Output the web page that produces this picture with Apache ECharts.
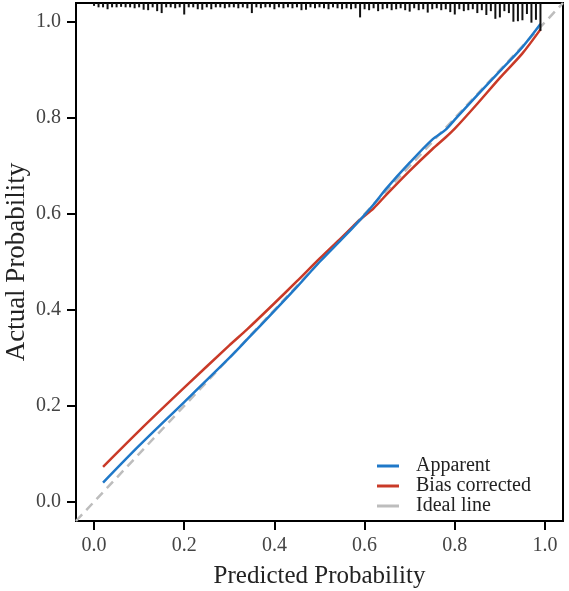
<!DOCTYPE html>
<html lang="en">
<head>
    <meta charset="UTF-8">
    <title>Calibration curve</title>
    <script src="https://cdn.jsdelivr.net/npm/echarts@6/dist/echarts.min.js"></script>
    <style>
        html, body { margin: 0; padding: 0; background: #fff; }
        #chart { width: 569px; height: 591px; }
    </style>
</head>
<body>
<div id="chart"></div>
<script>
    // predicted probability grid of the two curves
    let predX = [0.02, 0.1, 0.2, 0.3, 0.34, 0.4, 0.45, 0.5, 0.55, 0.59, 0.62, 0.65, 0.7, 0.75, 0.78, 0.8, 0.85, 0.9, 0.95, 0.99];
    let apparent = [0.040, 0.117, 0.208, 0.300, 0.339, 0.398, 0.448, 0.500, 0.548, 0.588, 0.620, 0.655, 0.707, 0.755, 0.776, 0.797, 0.848, 0.898, 0.948, 0.996];
    let biasCorrected = [0.073, 0.148, 0.238, 0.326, 0.360, 0.414, 0.460, 0.507, 0.552, 0.588, 0.612, 0.642, 0.690, 0.735, 0.760, 0.778, 0.830, 0.884, 0.935, 0.985];

    // rug of predicted values (position, tick length)
    let rugX = [0.00, 0.01, 0.02, 0.03, 0.04, 0.05, 0.06, 0.07, 0.08, 0.09,
                0.10, 0.11, 0.12, 0.13, 0.14, 0.15, 0.16, 0.17, 0.18, 0.19,
                0.20, 0.21, 0.22, 0.23, 0.24, 0.25, 0.26, 0.27, 0.28, 0.29,
                0.30, 0.31, 0.32, 0.33, 0.34, 0.35, 0.36, 0.37, 0.38, 0.39,
                0.40, 0.41, 0.42, 0.43, 0.44, 0.45, 0.46, 0.47, 0.48, 0.49,
                0.50, 0.51, 0.52, 0.53, 0.54, 0.55, 0.56, 0.57, 0.58, 0.59,
                0.60, 0.61, 0.62, 0.63, 0.64, 0.65, 0.66, 0.67, 0.68, 0.69,
                0.70, 0.71, 0.72, 0.73, 0.74, 0.75, 0.76, 0.77, 0.78, 0.79,
                0.80, 0.81, 0.82, 0.83, 0.84, 0.85, 0.86, 0.87, 0.88, 0.89,
                0.90, 0.91, 0.92, 0.93, 0.94, 0.95, 0.96, 0.97, 0.98, 0.99];
    let rugLen = [0.006, 0.009, 0.009, 0.013, 0.009, 0.009, 0.008, 0.009, 0.009, 0.011,
                  0.009, 0.014, 0.015, 0.009, 0.017, 0.021, 0.009, 0.009, 0.011, 0.009,
                  0.024, 0.009, 0.009, 0.013, 0.014, 0.009, 0.013, 0.009, 0.009, 0.011,
                  0.009, 0.009, 0.011, 0.009, 0.011, 0.021, 0.009, 0.011, 0.009, 0.009,
                  0.013, 0.009, 0.011, 0.009, 0.011, 0.009, 0.015, 0.014, 0.009, 0.011,
                  0.009, 0.011, 0.013, 0.009, 0.011, 0.013, 0.011, 0.013, 0.011, 0.030,
                  0.013, 0.015, 0.011, 0.017, 0.013, 0.011, 0.015, 0.013, 0.011, 0.015,
                  0.018, 0.011, 0.015, 0.013, 0.020, 0.013, 0.011, 0.015, 0.013, 0.019,
                  0.024, 0.013, 0.017, 0.015, 0.013, 0.021, 0.015, 0.025, 0.017, 0.033,
                  0.030, 0.017, 0.021, 0.039, 0.038, 0.036, 0.023, 0.041, 0.035, 0.058];

    let tickValues = [0, 0.2, 0.4, 0.6, 0.8, 1.0];
    let axisMin = -0.04, axisMax = 1.04;

    let font = '"Liberation Serif", "DejaVu Serif", serif';

    function pairs(xs, ys) {
        return xs.map((x, i) => [x, ys[i]]);
    }

    function valueAxis(name, nameGap, nameSize) {
        return {
            type: 'value',
            min: axisMin,
            max: axisMax,
            name: name,
            nameLocation: 'middle',
            nameGap: nameGap,
            nameMoveOverlap: false,
            nameTextStyle: { fontFamily: font, fontSize: nameSize, color: '#222' },
            axisLine: { show: false, onZero: false },
            splitLine: { show: false },
            axisTick: {
                show: true, length: 9, customValues: tickValues,
                lineStyle: { color: '#000', width: 2 }
            },
            axisLabel: {
                customValues: tickValues,
                margin: 15,
                fontFamily: font, fontSize: 20, color: '#444',
                formatter: v => v.toFixed(1)
            }
        };
    }

    let chart = echarts.init(document.getElementById('chart'));
    chart.setOption({
        animation: false,
        backgroundColor: '#fff',
        grid: {
            left: 76, right: 6, top: 3, bottom: 70,
            containLabel: false,
            outerBoundsMode: 'none',
            show: true, borderColor: '#000', borderWidth: 2,
            backgroundColor: 'transparent'
        },
        xAxis: valueAxis('Predicted Probability', 43, 25),
        yAxis: valueAxis('Actual Probability', 46, 27),
        legend: {
            orient: 'vertical',
            left: 372,
            top: 451,
            itemWidth: 22,
            itemHeight: 3,
            itemGap: 0,
            icon: 'rect',
            data: ['Apparent', 'Bias corrected', 'Ideal line'],
            textStyle: {
                fontFamily: font, fontSize: 20, color: '#222',
                lineHeight: 19.5, padding: [0, 0, 0, 12]
            }
        },
        series: [
            {
                name: 'Ideal line',
                type: 'line',
                data: [[axisMin, axisMin], [axisMax, axisMax]],
                showSymbol: false,
                color: '#bdbdbd',
                lineStyle: { color: '#bdbdbd', width: 2.5, type: [9, 6] },
                z: 1
            },
            {
                name: 'Bias corrected',
                type: 'line',
                data: pairs(predX, biasCorrected),
                smooth: 0.3,
                showSymbol: false,
                color: '#c93a28',
                lineStyle: { color: '#c93a28', width: 2.5 },
                z: 2
            },
            {
                name: 'Apparent',
                type: 'line',
                data: pairs(predX, apparent),
                smooth: 0.3,
                showSymbol: false,
                color: '#1f78c8',
                lineStyle: { color: '#1f78c8', width: 2.5 },
                z: 3
            },
            {
                name: 'rug',
                type: 'custom',
                data: pairs(rugX, rugLen),
                renderItem: function (params, api) {
                    let x = api.value(0), len = api.value(1);
                    let p1 = api.coord([x, axisMax]);
                    let p2 = api.coord([x, axisMax - len]);
                    return {
                        type: 'line',
                        shape: { x1: p1[0], y1: p1[1], x2: p2[0], y2: p2[1] },
                        style: { stroke: '#111', lineWidth: 2 }
                    };
                },
                z: 4
            }
        ]
    });
</script>
</body>
</html>
